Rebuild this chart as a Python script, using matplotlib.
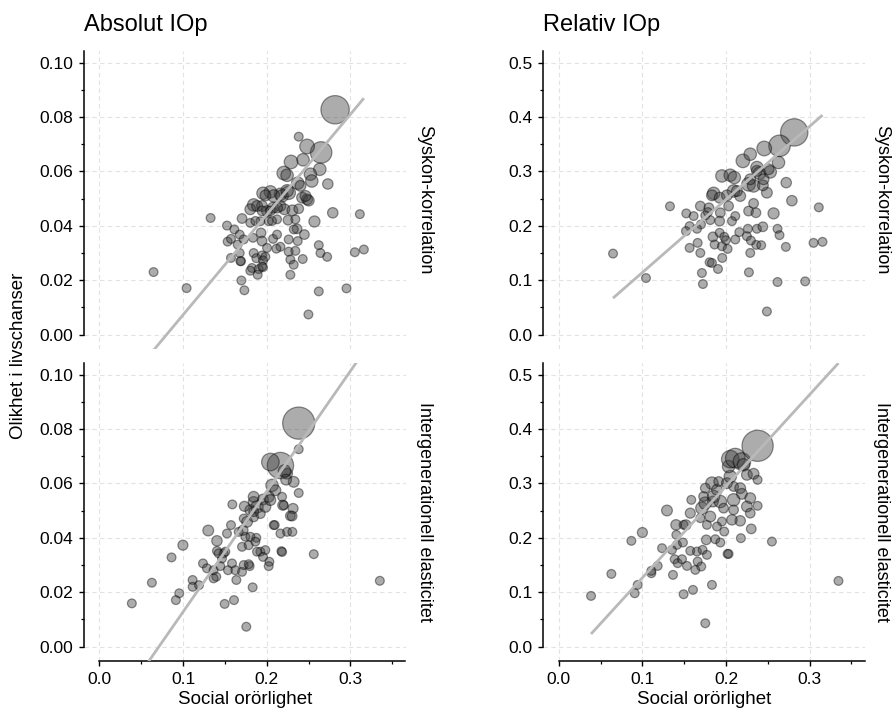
import matplotlib
matplotlib.use("Agg")
import matplotlib.pyplot as plt
from matplotlib.ticker import MultipleLocator, FormatStrFormatter

plt.rcParams['font.family'] = ['Liberation Sans', 'DejaVu Sans']

# (social immobility, IOp, weight) per panel
tl_points = [
    (0.0647, 0.0230, 1), (0.1042, 0.0171, 1), (0.1329, 0.0429, 1), (0.2499, 0.0074, 1),
    (0.2623, 0.0159, 1), (0.2954, 0.0170, 1), (0.3114, 0.0443, 1), (0.3162, 0.0313, 1),
    (0.3054, 0.0303, 1), (0.2790, 0.0448, 1.4), (0.2571, 0.0416, 1.6), (0.2731, 0.0554, 1.4),
    (0.2623, 0.0329, 1), (0.2643, 0.0300, 1), (0.2723, 0.0286, 1), (0.2383, 0.0728, 1),
    (0.2818, 0.0827, 10.4), (0.2651, 0.0670, 6), (0.2483, 0.0692, 2.8), (0.2635, 0.0608, 2),
    (0.2291, 0.0635, 2.4), (0.2435, 0.0643, 2), (0.2204, 0.0594, 2.4), (0.2244, 0.0586, 2),
    (0.2523, 0.0590, 2), (0.2539, 0.0565, 2), (0.2371, 0.0557, 2), (0.2263, 0.0522, 2.4),
    (0.2164, 0.0516, 2), (0.2044, 0.0525, 2), (0.2084, 0.0510, 2), (0.1956, 0.0520, 2),
    (0.2423, 0.0504, 1.5), (0.2483, 0.0497, 1.5), (0.2503, 0.0493, 1.5), (0.1844, 0.0477, 2),
    (0.1804, 0.0461, 1.5), (0.1944, 0.0473, 1.5), (0.2004, 0.0454, 1.5), (0.2076, 0.0467, 1.5),
    (0.2164, 0.0473, 1.5), (0.2212, 0.0461, 1.5), (0.2307, 0.0457, 1.5), (0.2383, 0.0463, 1.2),
    (0.1705, 0.0427, 1.2), (0.1804, 0.0411, 1), (0.1924, 0.0417, 1), (0.2024, 0.0417, 1),
    (0.2124, 0.0424, 1), (0.2255, 0.0421, 1.2), (0.2343, 0.0424, 1), (0.1525, 0.0401, 1),
    (0.1613, 0.0387, 1), (0.1677, 0.0368, 1), (0.1725, 0.0350, 1), (0.1533, 0.0342, 1),
    (0.1573, 0.0352, 1), (0.1653, 0.0331, 1), (0.1836, 0.0356, 1), (0.1932, 0.0374, 1.2),
    (0.1944, 0.0344, 1.2), (0.2004, 0.0319, 1), (0.2076, 0.0352, 1), (0.2124, 0.0368, 1),
    (0.2164, 0.0323, 1), (0.2263, 0.0350, 1), (0.2363, 0.0389, 1.2), (0.2371, 0.0344, 1),
    (0.2451, 0.0368, 1.2), (0.2263, 0.0305, 1), (0.2343, 0.0308, 1), (0.2283, 0.0276, 1),
    (0.2323, 0.0257, 1), (0.2431, 0.0278, 1), (0.1573, 0.0282, 1), (0.1677, 0.0300, 1),
    (0.1693, 0.0270, 1), (0.1844, 0.0300, 1), (0.1876, 0.0281, 1), (0.1944, 0.0291, 1),
    (0.1984, 0.0286, 1), (0.1956, 0.0273, 1), (0.1824, 0.0245, 1), (0.1804, 0.0235, 1),
    (0.1904, 0.0241, 1), (0.1956, 0.0248, 1), (0.1892, 0.0220, 1), (0.1697, 0.0199, 1),
    (0.1733, 0.0163, 1), (0.2283, 0.0220, 1), (0.2116, 0.0316, 1), (0.1985, 0.0512, 1.5),
    (0.2184, 0.0510, 2), (0.2244, 0.0529, 2), (0.2404, 0.0547, 1.5), (0.2464, 0.0510, 1.5),
    (0.1885, 0.0473, 1.5), (0.2124, 0.0467, 1.5), (0.1944, 0.0455, 1.2), (0.2044, 0.0455, 1.2),
    (0.1865, 0.0418, 1), (0.2064, 0.0418, 1), (0.2324, 0.0387, 1), (0.1685, 0.0270, 1),
    (0.1944, 0.0251, 1),
]

tr_points = [
    (0.0649, 0.149, 1), (0.1043, 0.104, 1), (0.1330, 0.236, 1), (0.2489, 0.0425, 1),
    (0.2616, 0.0967, 1), (0.2947, 0.0979, 1), (0.3110, 0.234, 1), (0.3154, 0.1706, 1),
    (0.3047, 0.1687, 1), (0.2788, 0.2463, 1.4), (0.2569, 0.2229, 1.6), (0.2720, 0.2795, 1.4),
    (0.2616, 0.1946, 1), (0.2640, 0.1829, 1), (0.2716, 0.1613, 1), (0.2274, 0.1145, 1),
    (0.2816, 0.3719, 9.7), (0.2640, 0.3472, 6), (0.2457, 0.3423, 2.8), (0.2628, 0.3165, 2),
    (0.2202, 0.3195, 2.4), (0.2290, 0.3318, 2), (0.2370, 0.3072, 2), (0.1951, 0.2918, 2),
    (0.2051, 0.2931, 2), (0.2099, 0.2888, 2), (0.2401, 0.2968, 2), (0.2529, 0.2992, 2),
    (0.2270, 0.2764, 2.4), (0.2330, 0.2734, 2), (0.2091, 0.2641, 2), (0.1852, 0.2598, 2),
    (0.1832, 0.2561, 1.5), (0.1924, 0.2518, 1.5), (0.2011, 0.2561, 1.5), (0.2170, 0.2549, 1.5),
    (0.2489, 0.2610, 1.5), (0.2441, 0.2746, 1.5), (0.1693, 0.2364, 1.2), (0.1796, 0.2333, 1.2),
    (0.1932, 0.2241, 1.2), (0.2031, 0.2364, 1.2), (0.2111, 0.2180, 1), (0.2270, 0.2272, 1.2),
    (0.2358, 0.2241, 1.2), (0.2330, 0.2413, 1.2), (0.1525, 0.2229, 1), (0.1613, 0.2180, 1),
    (0.1565, 0.1995, 1), (0.1521, 0.1902, 1), (0.1701, 0.2026, 1), (0.1653, 0.1946, 1),
    (0.1812, 0.2106, 1), (0.1924, 0.2087, 1.2), (0.2071, 0.2087, 1), (0.1844, 0.1798, 1.2),
    (0.1924, 0.1872, 1), (0.1979, 0.1798, 1), (0.1999, 0.1736, 1), (0.1864, 0.1656, 1),
    (0.1951, 0.1625, 1), (0.2019, 0.1576, 1), (0.2111, 0.1749, 1), (0.2159, 0.1884, 1),
    (0.2262, 0.1946, 1), (0.2250, 0.1810, 1), (0.2370, 0.1946, 1), (0.2441, 0.1983, 1.2),
    (0.2362, 0.1650, 1), (0.2290, 0.1502, 1), (0.2421, 0.1644, 1), (0.2298, 0.1730, 1),
    (0.1565, 0.1595, 1), (0.1693, 0.1502, 1), (0.1804, 0.1330, 1), (0.1832, 0.1318, 1),
    (0.1712, 0.1133, 1), (0.1724, 0.0930, 1), (0.1904, 0.1207, 1), (0.1955, 0.1410, 1),
    (0.1661, 0.1687, 1), (0.1752, 0.2192, 1), (0.1784, 0.2253, 1), (0.2131, 0.2641, 1.5),
    (0.2290, 0.2857, 1.5), (0.2370, 0.3011, 1.5), (0.2449, 0.2857, 1.5), (0.2509, 0.3042, 1.5),
]

bl_points = [
    (0.0387, 0.0159, 1), (0.0627, 0.0235, 1), (0.0862, 0.0328, 1), (0.0998, 0.0373, 1.3),
    (0.0954, 0.0196, 1), (0.0914, 0.0171, 1), (0.1114, 0.0245, 1), (0.1114, 0.0220, 1),
    (0.1190, 0.0226, 1), (0.1301, 0.0427, 1.5), (0.1497, 0.0157, 1), (0.1609, 0.0171, 1),
    (0.1756, 0.0073, 1), (0.1832, 0.0218, 1), (0.1589, 0.0523, 1), (0.1405, 0.0389, 1.4),
    (0.1525, 0.0416, 1), (0.1573, 0.0447, 1), (0.1405, 0.0352, 1), (0.1485, 0.0343, 1),
    (0.1465, 0.0324, 1), (0.1238, 0.0306, 1), (0.1285, 0.0288, 1), (0.1365, 0.0281, 1),
    (0.1397, 0.0257, 1), (0.1445, 0.0296, 1), (0.1537, 0.0281, 1), (0.1585, 0.0306, 1),
    (0.1637, 0.0245, 1), (0.1625, 0.0281, 1), (0.1705, 0.0275, 1), (0.1725, 0.0300, 1),
    (0.1796, 0.0296, 1), (0.1924, 0.0349, 1), (0.1984, 0.0355, 1), (0.1956, 0.0330, 1),
    (0.2032, 0.0312, 1), (0.2024, 0.0296, 1), (0.2176, 0.0351, 1), (0.2563, 0.0340, 1),
    (0.3353, 0.0242, 1), (0.1705, 0.0367, 1), (0.1784, 0.0373, 1), (0.1876, 0.0400, 1),
    (0.1745, 0.0404, 1), (0.1665, 0.0422, 1), (0.1717, 0.0428, 1.3), (0.1765, 0.0459, 1.5),
    (0.1725, 0.0471, 1), (0.1844, 0.0477, 1.2), (0.1804, 0.0502, 1.5), (0.1884, 0.0514, 2),
    (0.1844, 0.0532, 1.5), (0.1956, 0.0541, 1.5), (0.1924, 0.0489, 1.2), (0.1733, 0.0516, 1.3),
    (0.2084, 0.0447, 1), (0.2164, 0.0416, 1), (0.2244, 0.0422, 1), (0.2307, 0.0422, 1),
    (0.2283, 0.0481, 1.2), (0.2315, 0.0508, 1.3), (0.2192, 0.0520, 1.3), (0.2383, 0.0565, 1),
    (0.2323, 0.0606, 1.5), (0.2244, 0.0636, 1.5), (0.2064, 0.0593, 2), (0.2104, 0.0575, 1.5),
    (0.2184, 0.0551, 1), (0.2024, 0.0551, 1.5), (0.2383, 0.0726, 1), (0.2383, 0.0822, 13.4),
    (0.2164, 0.0666, 9), (0.2044, 0.0679, 4), (0.2212, 0.0646, 2), (0.2232, 0.0614, 1.5),
    (0.1844, 0.0551, 1.5), (0.1844, 0.0496, 1.2), (0.2204, 0.0520, 1), (0.2304, 0.0480, 1.2),
    (0.2096, 0.0447, 1), (0.1984, 0.0514, 1.5), (0.2044, 0.0539, 1.5), (0.2184, 0.0348, 1),
    (0.1805, 0.0404, 1), (0.1864, 0.0386, 1), (0.1884, 0.0349, 1), (0.1425, 0.0343, 1),
    (0.1505, 0.0349, 1), (0.1785, 0.0303, 1), (0.1365, 0.0251, 1),
]

br_points = [
    (0.0386, 0.0932, 1), (0.0629, 0.1337, 1), (0.0868, 0.1945, 1), (0.1000, 0.2098, 1.3),
    (0.0944, 0.1135, 1), (0.0908, 0.0981, 1), (0.1107, 0.1350, 1), (0.1107, 0.1393, 1),
    (0.1183, 0.1484, 1), (0.1294, 0.2503, 1.5), (0.1493, 0.0963, 1), (0.1605, 0.1043, 1),
    (0.1752, 0.0429, 1), (0.1832, 0.1135, 1), (0.1585, 0.2699, 1), (0.1402, 0.2239, 1.4),
    (0.1406, 0.2055, 1), (0.1493, 0.2239, 1), (0.1235, 0.1810, 1), (0.1354, 0.1779, 1),
    (0.1386, 0.1607, 1), (0.1422, 0.1534, 1), (0.1474, 0.1607, 1), (0.1366, 0.1319, 1),
    (0.1414, 0.1871, 1), (0.1485, 0.1914, 1), (0.1533, 0.1484, 1), (0.1573, 0.1761, 1),
    (0.1653, 0.1748, 1), (0.1633, 0.1411, 1), (0.1661, 0.1564, 1), (0.1704, 0.1472, 1),
    (0.1720, 0.1779, 1), (0.1772, 0.1687, 1), (0.1764, 0.1963, 1.2), (0.1872, 0.1975, 1),
    (0.1932, 0.1914, 1), (0.1979, 0.2116, 1), (0.2019, 0.1705, 1), (0.2031, 0.1705, 1),
    (0.2178, 0.1994, 1), (0.2549, 0.1932, 1), (0.3345, 0.1208, 1), (0.1573, 0.2454, 1.3),
    (0.1521, 0.2239, 1.3), (0.1693, 0.2362, 1), (0.1772, 0.2239, 1), (0.1812, 0.2392, 1.5),
    (0.1712, 0.2546, 2), (0.1752, 0.2638, 2), (0.1844, 0.2668, 1.5), (0.1852, 0.2760, 2),
    (0.1832, 0.3006, 2), (0.1892, 0.2883, 1.5), (0.1932, 0.2668, 2), (0.1971, 0.2546, 1.2),
    (0.1732, 0.2760, 1.2), (0.1752, 0.2914, 1.2), (0.1912, 0.3036, 1.2), (0.2011, 0.3006, 1.5),
    (0.2051, 0.3128, 2), (0.2031, 0.3312, 2), (0.2051, 0.3447, 4), (0.2111, 0.3466, 5),
    (0.2190, 0.3404, 4), (0.2210, 0.3343, 2), (0.2378, 0.3693, 12.6), (0.2250, 0.3159, 1.5),
    (0.2330, 0.3178, 1.5), (0.2378, 0.3067, 1), (0.2091, 0.2944, 1.2), (0.2170, 0.2914, 1.5),
    (0.2190, 0.2809, 1.5), (0.2290, 0.2730, 1.5), (0.2378, 0.2589, 1), (0.2250, 0.2576, 1.5),
    (0.2290, 0.2454, 1.2), (0.2170, 0.2313, 1.4), (0.2091, 0.2515, 1.2), (0.2071, 0.2331, 1.4),
    (0.1951, 0.2300, 1), (0.1892, 0.2208, 1), (0.2302, 0.2165, 1.2), (0.2091, 0.2699, 2),
]

# fitted line per panel: (intercept, slope)
tl_fit = (-0.0296, 0.3686)
tr_fit = (-0.0201, 1.3436)
bl_fit = (-0.0315, 0.4427)
br_fit = (-0.0418, 1.684)

col_titles = ["Absolut IOp", "Relativ IOp"]
row_labels = ["Syskon-korrelation", "Intergenerationell elasticitet"]
xlabel = "Social orörlighet"
ylabel = "Olikhet i livschanser"

W, H = 893, 715
fig = plt.figure(figsize=(W / 100, H / 100), dpi=100)

lefts = [84 / W, 543.3 / W]
width = 321.5 / W
bottoms = [1 - 349 / H, 1 - 661 / H]
height = 298.5 / H
strip_x = [416 / W, 873 / W]

XLIM = (-0.0185, 0.366)
panels = [
    (0, 0, tl_points, tl_fit, (-0.0053, 0.1045), 0.02, 0.01, '%.2f'),
    (0, 1, tr_points, tr_fit, (-0.0265, 0.5225), 0.1, 0.05, '%.1f'),
    (1, 0, bl_points, bl_fit, (-0.0053, 0.1045), 0.02, 0.01, '%.2f'),
    (1, 1, br_points, br_fit, (-0.0265, 0.5225), 0.1, 0.05, '%.1f'),
]

for row, col, pts, fit, ylim, ymaj, ymin, yfmt in panels:
    ax = fig.add_axes([lefts[col], bottoms[row], width, height])
    xs = [p[0] for p in pts]
    ys = [p[1] for p in pts]
    ws = [p[2] for p in pts]

    ax.scatter(xs, ys, s=[40 * w for w in ws], facecolor='#3a3a3a', alpha=0.42,
               edgecolors='#000000', linewidths=0.9, zorder=3)
    x0, x1 = min(xs), max(xs)
    ax.plot([x0, x1], [fit[0] + fit[1] * x0, fit[0] + fit[1] * x1],
            color='#b9b9b9', lw=2, zorder=4, solid_capstyle='butt')

    ax.set_xlim(*XLIM)
    ax.set_ylim(*ylim)
    ax.xaxis.set_major_locator(MultipleLocator(0.1))
    ax.xaxis.set_minor_locator(MultipleLocator(0.05))
    ax.yaxis.set_major_locator(MultipleLocator(ymaj))
    ax.yaxis.set_minor_locator(MultipleLocator(ymin))
    ax.xaxis.set_major_formatter(FormatStrFormatter('%.1f'))
    ax.yaxis.set_major_formatter(FormatStrFormatter(yfmt))

    ax.grid(True, which='major', color='#e2e2e2', lw=0.8, ls=(0, (4, 3)), zorder=0)
    ax.set_axisbelow(True)

    for s in ['top', 'right']:
        ax.spines[s].set_visible(False)
    ax.spines['left'].set_bounds(0, ylim[1])
    ax.spines['left'].set_linewidth(1.1)
    ax.tick_params(axis='both', which='major', length=3.6, width=1, labelsize=12.5, pad=4)
    ax.tick_params(axis='both', which='minor', length=2.2, width=0.9)

    if row == 0:
        ax.spines['bottom'].set_visible(False)
        ax.tick_params(axis='x', which='both', bottom=False, labelbottom=False)
        ax.set_title(col_titles[col], loc='left', fontsize=17, pad=14)
    else:
        ax.spines['bottom'].set_bounds(0, XLIM[1])
        ax.spines['bottom'].set_linewidth(1.1)
        ax.set_xlabel(xlabel, fontsize=13.5, labelpad=3)

    ymid = bottoms[row] + height / 2
    fig.text(strip_x[col], ymid, row_labels[row], rotation=270,
             ha='left', va='center', fontsize=13)

fig.text(0.021, 1 - 356 / H, ylabel, rotation=90, ha='center', va='center', fontsize=13.5)

fig.savefig('out.png', dpi=100)
